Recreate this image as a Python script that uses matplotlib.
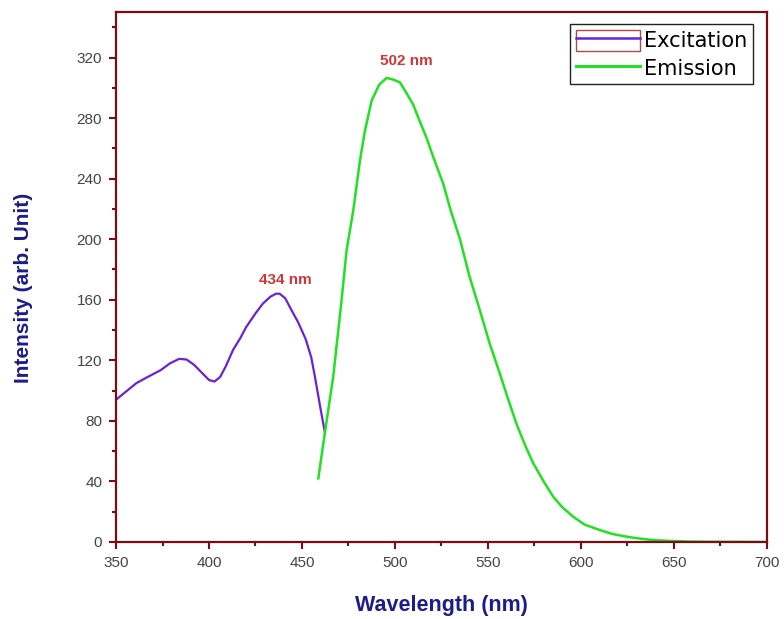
import matplotlib
matplotlib.use("Agg")
import matplotlib.pyplot as plt
from matplotlib.patches import Rectangle
from matplotlib.lines import Line2D
from matplotlib.legend_handler import HandlerTuple
from matplotlib.ticker import MultipleLocator

# ── Data ──────────────────────────────────────
exc_wl = [350, 355, 361, 367, 374, 379, 384, 388, 392, 396, 400, 403, 406, 409,
          413, 417, 420, 425, 429, 433, 436, 438, 441, 444, 448, 452, 455, 457,
          460, 462.4]
exc_int = [94, 99, 105, 109, 113.5, 118, 121, 120.5, 117, 112, 107, 106, 109, 116,
           127, 135, 142, 151, 157.5, 162, 164, 164, 161, 154, 145, 134, 122, 109,
           88, 72]

em_wl = [458.8, 462.4, 466.8, 471.3, 474, 477.6, 481.2, 483.9, 487.5, 491.5, 495.5,
         499, 502.7, 506, 509.8, 513, 517, 521, 526, 530, 535, 540, 545.7, 551,
         556.5, 561, 565.4, 570, 574.4, 580, 585.1, 590, 595.9, 602, 610.2, 617,
         624.6, 632, 638.9, 648, 658, 670, 700]
em_int = [42, 72.8, 109, 159.6, 192.6, 219, 252, 271.8, 291.6, 302, 306.5,
          305.5, 303.6, 297, 289, 279, 267, 253, 236.6, 219, 200, 176, 153, 131,
          111, 94, 78, 64, 52, 40, 30, 23, 16.7, 11.5, 7.9, 5.3,
          3.5, 2.2, 1.3, 0.7, 0.3, 0.1, 0]

peak_labels = ["434 nm", "502 nm"]
peak_pos = [(441, 173), (506, 318)]

spine_col = "#7b0c16"
exc_col = "#6a22d8"
em_col = "#22e022"
label_col = "#1c1c8a"

fig = plt.figure(figsize=(7.84, 6.19), dpi=100)
ax = fig.add_axes([0.148, 0.1244, 0.830, 0.856])

ax.plot(exc_wl, exc_int, color=exc_col, lw=1.6)
ax.plot(em_wl, em_int, color=em_col, lw=1.8)

ax.set_xlim(350, 700)
ax.set_ylim(0, 350)
ax.xaxis.set_major_locator(MultipleLocator(50))
ax.xaxis.set_minor_locator(MultipleLocator(25))
ax.yaxis.set_major_locator(MultipleLocator(40))
ax.yaxis.set_minor_locator(MultipleLocator(20))
ax.set_yticks(range(0, 321, 40))

for s in ax.spines.values():
    s.set_color(spine_col)
    s.set_linewidth(1.6)
ax.tick_params(which="both", direction="out", color=spine_col, width=1.5,
               labelcolor="#444444", labelsize=11, pad=5,
               labelfontfamily="Liberation Sans")
ax.tick_params(which="major", length=5)
ax.tick_params(which="minor", length=3)

ax.set_xlabel("Wavelength (nm)", fontsize=15.5, fontweight="bold",
              color=label_col, family="Liberation Sans", labelpad=18)
ax.set_ylabel("Intensity (arb. Unit)", fontsize=15, fontweight="bold",
              color=label_col, family="Liberation Sans")
ax.yaxis.set_label_coords(-0.128, 0.48)

for txt, (x, y) in zip(peak_labels, peak_pos):
    ax.text(x, y, txt, color="#d03636", fontsize=11, fontweight="bold",
            family="Liberation Sans", ha="center", va="center")

h_exc = (Rectangle((0, 0), 1, 1, facecolor="none", edgecolor="#b04848", lw=1),
         Line2D([], [], color=exc_col, lw=1.8))
h_em = Line2D([], [], color=em_col, lw=2.2)
leg = ax.legend([h_exc, h_em], ["Excitation", "Emission"],
                handler_map={tuple: HandlerTuple(ndivide=1)},
                loc="upper right", bbox_to_anchor=(0.9785, 0.977),
                fancybox=False, framealpha=1, edgecolor="#222222",
                prop={"family": "DejaVu Sans", "size": 15},
                handlelength=3.1, handleheight=1.2, handletextpad=0.2,
                borderpad=0.25, labelspacing=0.3, borderaxespad=0)
leg.get_frame().set_linewidth(1)

plt.savefig("out.png", dpi=100)
